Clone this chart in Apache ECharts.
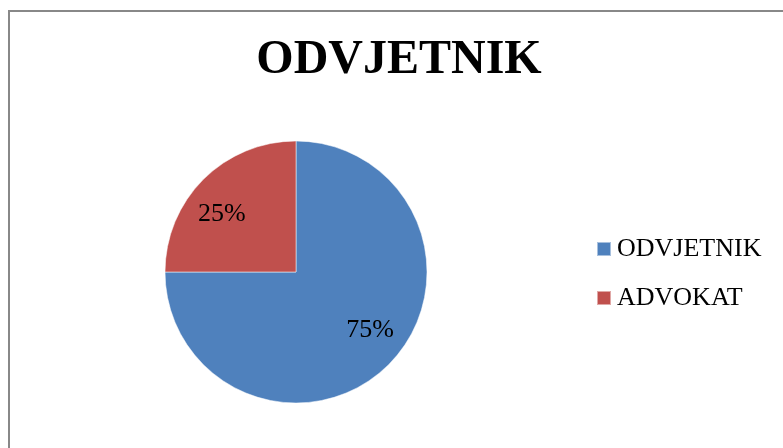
<!DOCTYPE html>
<html>
<head>
<meta charset="utf-8">
<script src="https://cdn.jsdelivr.net/npm/echarts@6/dist/echarts.min.js"></script>
<style>
  html, body { margin: 0; padding: 0; background: #fff; }
  #mainChart { width: 783px; height: 448px; }
</style>
</head>
<body>
<div id="mainChart"></div>
<script>
var titleText = "ODVJETNIK";
var categories = ["ODVJETNIK", "ADVOKAT"];
var values = [75, 25];
var colors = ["#4F81BD", "#C0504D"];

var serif = "'Liberation Serif', 'Times New Roman', serif";
var chart = echarts.init(document.getElementById("mainChart"));

var pieData = categories.map(function (name, i) {
  return { name: name, value: values[i], itemStyle: { color: colors[i] } };
});

var option = {
  animation: false,
  title: {
    text: titleText,
    left: 394,
    textAlign: "center",
    top: 32,
    textStyle: { fontFamily: serif, fontSize: 48, fontWeight: "bold", color: "#000" },
  },
  legend: {
    orient: "vertical",
    left: 596,
    top: 236,
    padding: 0,
    itemGap: 23,
    itemWidth: 14,
    itemHeight: 14,
    icon: "rect",
    data: categories,
    textStyle: { fontFamily: serif, fontSize: 26, color: "#000", padding: [0, 0, 0, 1] },
  },
  graphic: [
    {
      type: "rect",
      shape: { x: 9, y: 11, width: 900, height: 600 },
      style: { fill: "none", stroke: "#888", lineWidth: 2 },
      silent: true,
    },
  ],
  series: [
    {
      type: "pie",
      center: [296, 272],
      radius: 131,
      startAngle: 90,
      clockwise: true,
      label: { show: false },
      labelLine: { show: false },
      itemStyle: { borderColor: "rgba(255,255,255,0.5)", borderWidth: 1 },
      data: pieData,
    },
    {
      // transparent copy, only used to place the percent labels
      type: "pie",
      center: [296, 272],
      radius: 182,
      startAngle: 97,
      clockwise: true,
      silent: true,
      legendHoverLink: false,
      itemStyle: { color: "rgba(0,0,0,0)" },
      label: {
        show: true,
        position: "inside",
        formatter: function (p) { return Math.round(p.percent) + "%"; },
        fontFamily: serif,
        fontSize: 26,
        color: "#000",
      },
      labelLine: { show: false },
      data: categories.map(function (name, i) {
        return { name: name + " ", value: values[i] };
      }),
    },
  ],
};
chart.setOption(option);
</script>
</body>
</html>
